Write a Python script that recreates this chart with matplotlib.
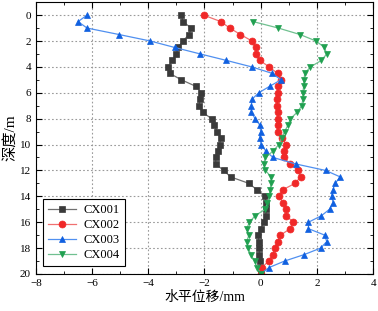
import numpy as np
import matplotlib
matplotlib.use("Agg")
import matplotlib.pyplot as plt
from matplotlib.ticker import MultipleLocator

plt.rcParams['font.family'] = ['Liberation Serif', 'Noto Sans CJK SC']

# profundidade (m), passo de 0.5 m
depth = np.arange(0, 20.01, 0.5)

cx001 = [-2.82, -2.77, -2.47, -2.55, -2.77, -2.94, -3.0, -3.14, -3.30, -3.24,
         -2.82, -2.31, -2.11, -2.15, -2.2, -2.07, -1.75, -1.67, -1.54, -1.42,
         -1.46, -1.52, -1.6, -1.6, -1.32, -1.07, -0.42, -0.13, 0.14, 0.2,
         0.2, 0.18, 0.12, 0.0, -0.08, -0.07, -0.05, -0.05, -0.03, 0.0, 0.0]

cx002 = [-2.03, -1.42, -1.1, -0.72, -0.31, -0.18, -0.18, -0.03, 0.3, 0.6,
         0.72, 0.6, 0.6, 0.59, 0.58, 0.6, 0.6, 0.6, 0.6, 0.77,
         0.9, 0.82, 0.83, 1.05, 1.33, 1.42, 1.22, 0.78, 0.65, 0.8,
         0.91, 0.91, 1.16, 1.05, 0.7, 0.6, 0.5, 0.44, 0.28, 0.05, 0.0]

cx003 = [-6.18, -6.5, -6.18, -5.04, -3.93, -3.06, -2.15, -1.22, -0.32, 0.41,
         0.72, 0.32, -0.07, -0.31, -0.33, -0.33, -0.2, -0.03, 0.0, -0.04,
         0.02, 0.18, 0.44, 1.25, 2.31, 2.83, 2.65, 2.57, 2.52, 2.58,
         2.45, 2.16, 1.7, 1.7, 2.28, 2.35, 2.13, 1.55, 0.85, 0.3, 0.0]

depth4 = np.arange(0.5, 20.01, 0.5)
cx004 = [-0.27, 0.63, 1.4, 1.97, 2.27, 2.35, 2.16, 1.77, 1.57,
         1.54, 1.53, 1.5, 1.5, 1.46, 1.3, 1.06, 0.97, 0.85, 0.75,
         0.65, 0.44, 0.17, 0.1, 0.17, 0.37, 0.37, 0.33, 0.3, 0.24,
         0.16, -0.2, -0.4, -0.5, -0.42, -0.5, -0.45, -0.35, -0.22, -0.12, 0.0]

series = [
    ("CX001", depth, cx001, "s", "#3a3a3a", "#707070"),
    ("CX002", depth, cx002, "o", "#f02828", "#f07070"),
    ("CX003", depth, cx003, "^", "#1060e0", "#5090f0"),
    ("CX004", depth4, cx004, "v", "#20a050", "#70c090"),
]

fig, ax = plt.subplots(figsize=(3.78, 3.11), dpi=100)
fig.subplots_adjust(left=0.095, right=0.987, top=0.993, bottom=0.119)

for nome, y, x, mk, cor, cor_linha in series:
    ax.plot(x, y, color=cor_linha, lw=0.9, marker=mk, markersize=5,
            markerfacecolor=cor, markeredgecolor=cor, markeredgewidth=0.5,
            label=nome)

ax.set_xlim(-8, 4)
ax.set_ylim(20, -1)
ax.xaxis.set_major_locator(MultipleLocator(2))
ax.xaxis.set_minor_locator(MultipleLocator(1))
ax.yaxis.set_minor_locator(MultipleLocator(1))
ax.set_yticks(np.arange(0, 21, 2))
ax.tick_params(which="both", direction="in", top=True, right=True,
               labelsize=8)
ax.tick_params(which="major", length=4)
ax.tick_params(which="minor", length=2)
ax.grid(True, which="major", linestyle=(0, (1.5, 2)), color="#9a9a9a", lw=0.8)

ax.set_xlabel("水平位移/mm", fontsize=10, labelpad=2)
ax.set_ylabel("深度/m", fontsize=11, labelpad=2)

leg = ax.legend(loc="lower left", fontsize=9, fancybox=False,
                edgecolor="black", framealpha=1, handlelength=2.2,
                borderaxespad=0.6, labelspacing=0.25, handletextpad=0.6)
leg.get_frame().set_linewidth(0.8)

fig.savefig("out.png", dpi=100)
